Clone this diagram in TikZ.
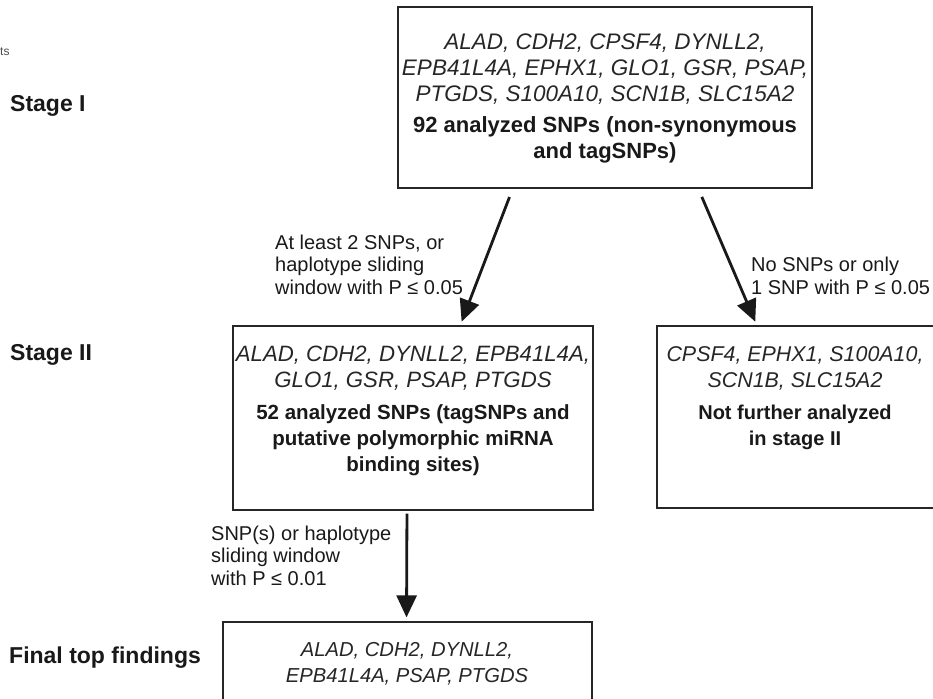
\documentclass[tikz,border=0pt]{standalone}
\usepackage{fontspec}
\setmainfont{Liberation Sans}
\usetikzlibrary{arrows.meta,calc}
\begin{document}
\begin{tikzpicture}[x=1pt,y=-1pt,
  box/.style={draw=black!85, line width=1.2pt, inner sep=0pt},
  gene/.style={font=\fontsize{#1}{26}\selectfont\itshape, align=center, text=black!85},
  boldtxt/.style={font=\fontsize{#1}{26}\selectfont\bfseries, align=center, text=black!90},
  stage/.style={font=\fontsize{23}{27}\selectfont\bfseries, anchor=west, inner sep=0pt, text=black!90},
  cond/.style={font=\fontsize{20}{22.5}\selectfont, align=left, anchor=west, inner sep=0pt, text=black!90},
  arr/.style={line width=2.8pt, draw=black!90, -{Triangle[length=22pt,width=20pt]}}
]
\useasboundingbox (0,0) rectangle (933,698);

% boxes
\node[box, minimum width=414pt, minimum height=181pt] (s1) at (605,97.5) {};
\node[box, minimum width=360pt, minimum height=184pt] (s2) at (413,418) {};
\node[box, minimum width=283pt, minimum height=182pt] (s3) at (798.5,417) {};
\node[box, minimum width=369pt, minimum height=88pt] (s4) at (407.5,666) {};

% box texts
\node[gene=22.5] (g1) at (605,69) {ALAD, CDH2, CPSF4, DYNLL2,\\EPB41L4A, EPHX1, GLO1, GSR, PSAP,\\PTGDS, S100A10, SCN1B, SLC15A2};
\node[boldtxt=22] (b1) at (605,139.5) {92 analyzed SNPs (non-synonymous\\and tagSNPs)};
\node[gene=22.2] (g2) at (413,368.5) {ALAD, CDH2, DYNLL2, EPB41L4A,\\GLO1, GSR, PSAP, PTGDS};
\node[boldtxt=20.5] (b2) at (413,440) {52 analyzed SNPs (tagSNPs and\\putative polymorphic miRNA\\binding sites)};
\node[gene=21.4] (g3) at (795,368.5) {CPSF4, EPHX1, S100A10,\\SCN1B, SLC15A2};
\node[boldtxt=20] (b3) at (795,427) {Not further analyzed\\in stage II};
\node[gene=20.2] (g4) at (407,664) {ALAD, CDH2, DYNLL2,\\EPB41L4A, PSAP, PTGDS};

% stage labels
\node[stage] (st1) at (10,106) {Stage I};
\node[stage] (st2) at (10,355) {Stage II};
\node[stage] (st3) at (9,658) {Final top findings};
\node[font=\fontsize{12}{12}\selectfont, text=black!70, inner sep=0pt, anchor=west] (frag) at (0,52) {ts};

% condition labels
\node[cond] (c1) at (275,264.5) {At least 2 SNPs, or\\haplotype sliding\\window with P ≤ 0.05};
\node[cond] (c2) at (751,276) {No SNPs or only\\1 SNP with P ≤ 0.05};
\node[cond] (c3) at (211,555.5) {SNP(s) or haplotype\\sliding window\\with P ≤ 0.01};

% arrows
\draw[arr, shorten <=9pt, shorten >=4pt]
  ($(s1.south west)!0.2778!(s1.south east)$) -- ($(s2.north west)!0.6306!(s2.north east)$);
\draw[arr, shorten <=9pt, shorten >=4pt]
  ($(s1.south west)!0.7246!(s1.south east)$) -- ($(s3.north west)!0.3534!(s3.north east)$);
\draw[arr, shorten <=3pt, shorten >=4pt]
  ($(s2.south west)!0.4833!(s2.south east)$) -- ($(s4.north west)!0.4973!(s4.north east)$);
\end{tikzpicture}
\end{document}
